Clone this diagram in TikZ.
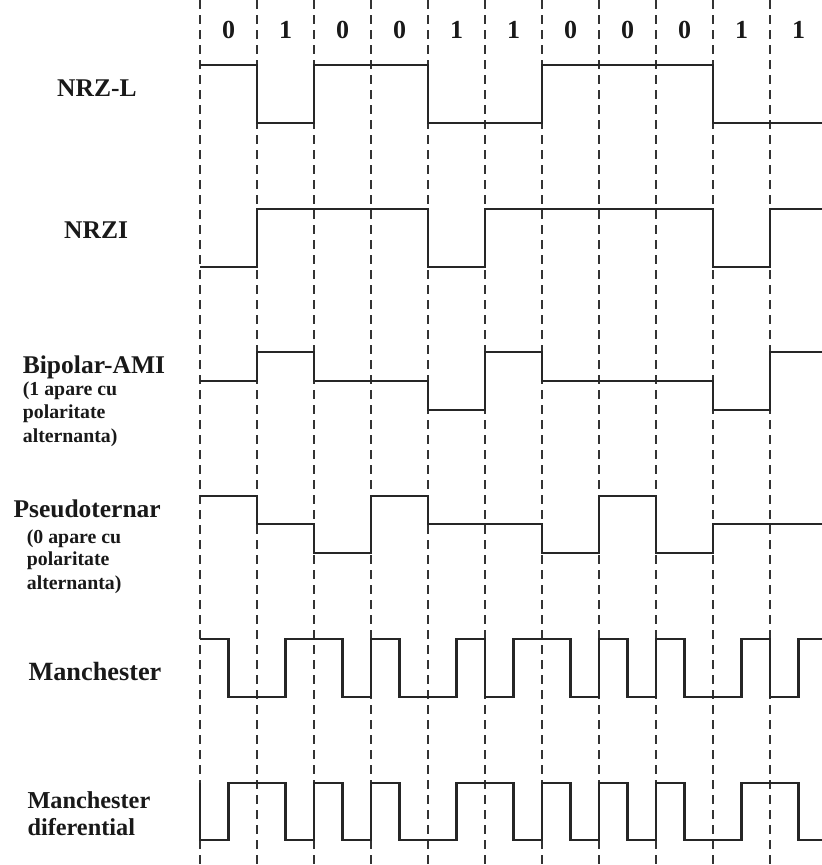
\documentclass[tikz,border=0pt]{standalone}
\usepackage{fontspec}
\setmainfont{Liberation Serif}
\begin{document}
\begin{tikzpicture}[x=1pt,y=-1pt,
  gridline/.style={line width=1.1pt, dash pattern=on 9pt off 6pt, black!80},
  wave/.style={line width=2.5pt, black!85, line join=miter},
  bit/.style={font=\fontsize{26}{26}\selectfont\bfseries, anchor=base, inner sep=0pt, text=black!90},
  lab/.style={font=\fontsize{25.5}{25.5}\selectfont\bfseries, anchor=base west, inner sep=0pt, text=black!90},
  sub/.style={font=\fontsize{19.8}{19.8}\selectfont\bfseries, anchor=base west, inner sep=0pt, text=black!90}
]
\useasboundingbox (0,0) rectangle (822,865);
\fill[white] (0,0) rectangle (822,865);
% dashed bit boundaries
\foreach \i in {0,...,10} \draw[gridline] ({200+57*\i},0) -- ({200+57*\i},865);
% bits
\foreach \b [count=\i from 0] in {0,1,0,0,1,1,0,0,0,1,1}
  \node[bit] (b\i) at ({228.5+57*\i},38.5) {\b};
% labels
\node[lab] (lnrzl) at (57,96) {NRZ-L};
\node[lab] (lnrzi) at (64,238) {NRZI};
\node[lab] (lami) at (22.7,373) {Bipolar-AMI};
\node[sub] (lami1) at (22.7,395) {(1 apare cu};
\node[sub] (lami2) at (22.7,418.5) {polaritate};
\node[sub] (lami3) at (22.7,442.5) {alternanta)};
\node[lab] (lpse) at (13.3,517) {Pseudoternar};
\node[sub] (lpse1) at (26.7,543) {(0 apare cu};
\node[sub] (lpse2) at (26.7,565.5) {polaritate};
\node[sub] (lpse3) at (26.7,589) {alternanta)};
\node[lab,font=\fontsize{26.3}{26.3}\selectfont\bfseries] (lman) at (28.3,680) {Manchester};
\node[lab,font=\fontsize{24.3}{24.3}\selectfont\bfseries] (ldif1) at (27.3,808) {Manchester};
\node[lab,font=\fontsize{24.3}{24.3}\selectfont\bfseries] (ldif2) at (27.3,835) {diferential};
% NRZ-L
\draw[wave] (200,65) -| (257,123) -| (314,65) -| (428,123) -| (542,65) -| (713,123) -- (822,123);
% NRZI
\draw[wave] (200,267) -| (257,209) -| (428,267) -| (485,209) -| (713,267) -| (770,209) -- (822,209);
% Bipolar-AMI
\draw[wave] (200,381) -| (257,352) -| (314,381) -| (428,410) -| (485,352) -| (542,381) -| (713,410) -| (770,352) -- (822,352);
% Pseudoternar
\draw[wave] (200,496) -| (257,524) -| (314,553) -| (371,496) -| (428,524) -| (542,553) -| (599,496) -| (656,553) -| (713,524) -- (822,524);
% Manchester
\draw[wave] (200,639) -| (228.5,697) -| (285.5,639) -| (342.5,697) -| (371,639) -| (399.5,697) -| (456.5,639) -| (485,697) -| (513.5,639) -| (570.5,697) -| (599,639) -| (627.5,697) -| (656,639) -| (684.5,697) -| (741.5,639) -| (770,697) -| (798.5,639) -- (822,639);
% Manchester diferential
\draw[wave] (200,783) -- (200,840) -| (228.5,783) -| (285.5,840) -| (314,783) -| (342.5,840) -| (371,783) -| (399.5,840) -| (456.5,783) -| (513.5,840) -| (542,783) -| (570.5,840) -| (599,783) -| (627.5,840) -| (656,783) -| (684.5,840) -| (741.5,783) -| (798.5,840) -- (822,840);
\end{tikzpicture}
\end{document}
